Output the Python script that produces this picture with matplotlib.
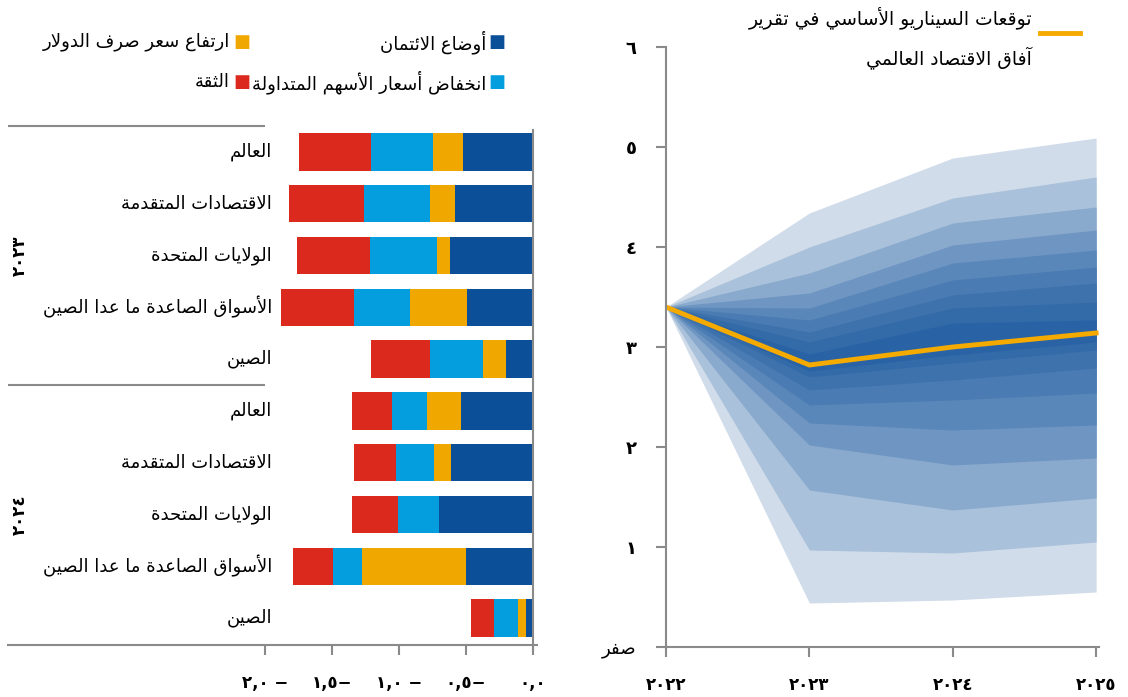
import numpy as np
from matplotlib import pyplot as plt
from matplotlib.lines import Line2D

# ---- data (left panel: contributions, percentage points) ----
regions = ['العالم', 'الاقتصادات المتقدمة', 'الولايات المتحدة', 'الأسواق الصاعدة ما عدا الصين', 'الصين']
group_years = ['٢٠٢٣', '٢٠٢٤']
credit_2023 = [-0.52, -0.58, -0.62, -0.49, -0.20]
dollar_2023 = [-0.23, -0.19, -0.10, -0.43, -0.17]
equity_2023 = [-0.46, -0.49, -0.50, -0.42, -0.40]
confidence_2023 = [-0.54, -0.56, -0.54, -0.54, -0.44]
credit_2024 = [-0.54, -0.61, -0.70, -0.50, -0.05]
dollar_2024 = [-0.25, -0.13, 0.01, -0.78, -0.06]
equity_2024 = [-0.26, -0.28, -0.31, -0.21, -0.18]
confidence_2024 = [-0.30, -0.32, -0.34, -0.30, -0.17]
series_names = ['أوضاع الائتمان', 'ارتفاع سعر صرف الدولار', 'انخفاض أسعار الأسهم المتداولة', 'الثقة']
bar_xticks = [-2.0, -1.5, -1.0, -0.5, 0.0]
bar_xticklabels = ['٢,٠ −', '١,٥−', '١,٠ −', '٠,٥−', '٠,٠']

# ---- data (right panel: fan chart) ----
fan_years = [2022, 2023, 2024, 2025]
fan_year_labels = ['٢٠٢٢', '٢٠٢٣', '٢٠٢٤', '٢٠٢٥']
baseline = [3.40, 2.82, 3.00, 3.14]
fan_upper = [
    [3.40, 4.34, 4.89, 5.09],
    [3.40, 4.00, 4.49, 4.70],
    [3.40, 3.74, 4.24, 4.40],
    [3.40, 3.54, 4.02, 4.17],
    [3.40, 3.39, 3.84, 3.97],
    [3.40, 3.27, 3.67, 3.80],
    [3.40, 3.15, 3.52, 3.64],
    [3.40, 3.05, 3.39, 3.45],
    [3.40, 2.93, 3.24, 3.27],
]
fan_lower = [
    [3.40, 0.44, 0.47, 0.55],
    [3.40, 0.97, 0.94, 1.05],
    [3.40, 1.57, 1.37, 1.49],
    [3.40, 2.02, 1.82, 1.89],
    [3.40, 2.24, 2.17, 2.22],
    [3.40, 2.42, 2.47, 2.54],
    [3.40, 2.57, 2.67, 2.79],
    [3.40, 2.70, 2.84, 2.97],
    [3.40, 2.76, 2.92, 3.05],
]
fan_yticklabels = ['صفر', '١', '٢', '٣', '٤', '٥', '٦']
baseline_label = ['توقعات السيناريو الأساسي في تقرير', 'آفاق الاقتصاد العالمي']

# colours
c_credit = '#0b4f98'
c_dollar = '#f0a800'
c_equity = '#049ddd'
c_conf = '#db291d'
fan_colors = ['#d0dce9', '#a9c1da', '#8aaacd', '#6f96c2', '#5a87b9', '#4a7bb2',
              '#3e72ad', '#336aa8', '#2a63a5']
grey = '#8a8a8a'

# ---- minimal Arabic shaping (matplotlib has no bidi / joining) ----
FORMS = {
    '\u0621': (0xFE80, 1), '\u0622': (0xFE81, 2), '\u0623': (0xFE83, 2), '\u0624': (0xFE85, 2),
    '\u0625': (0xFE87, 2), '\u0626': (0xFE89, 4), '\u0627': (0xFE8D, 2), '\u0628': (0xFE8F, 4),
    '\u0629': (0xFE93, 2), '\u062A': (0xFE95, 4), '\u062B': (0xFE99, 4), '\u062C': (0xFE9D, 4),
    '\u062D': (0xFEA1, 4), '\u062E': (0xFEA5, 4), '\u062F': (0xFEA9, 2), '\u0630': (0xFEAB, 2),
    '\u0631': (0xFEAD, 2), '\u0632': (0xFEAF, 2), '\u0633': (0xFEB1, 4), '\u0634': (0xFEB5, 4),
    '\u0635': (0xFEB9, 4), '\u0636': (0xFEBD, 4), '\u0637': (0xFEC1, 4), '\u0638': (0xFEC5, 4),
    '\u0639': (0xFEC9, 4), '\u063A': (0xFECD, 4), '\u0641': (0xFED1, 4), '\u0642': (0xFED5, 4),
    '\u0643': (0xFED9, 4), '\u0644': (0xFEDD, 4), '\u0645': (0xFEE1, 4), '\u0646': (0xFEE5, 4),
    '\u0647': (0xFEE9, 4), '\u0648': (0xFEED, 2), '\u0649': (0xFEEF, 2), '\u064A': (0xFEF1, 4),
}
LAM_ALEF = {'\u0622': 0xFEF5, '\u0623': 0xFEF7, '\u0625': 0xFEF9, '\u0627': 0xFEFB}


def shape(text):
    chars = []
    i = 0
    while i < len(text):
        c = text[i]
        if c == '\u0644' and i + 1 < len(text) and text[i + 1] in LAM_ALEF:
            chars.append(('LA', LAM_ALEF[text[i + 1]]))
            i += 2
        else:
            chars.append(('C', c))
            i += 1

    def nforms(t):
        if t[0] == 'LA':
            return 2
        return FORMS[t[1]][1] if t[1] in FORMS else 0

    out = []
    for k, t in enumerate(chars):
        n = nforms(t)
        if n == 0:
            out.append(t[1])
            continue
        prev_joins = k > 0 and nforms(chars[k - 1]) == 4
        next_joins = n == 4 and k + 1 < len(chars) and nforms(chars[k + 1]) > 0
        base = t[1] if t[0] == 'LA' else FORMS[t[1]][0]
        if n == 1:
            form = 0
        elif prev_joins and next_joins:
            form = 3
        elif next_joins:
            form = 2
        elif prev_joins:
            form = 1
        else:
            form = 0
        out.append(chr(base + form))
    return ''.join(reversed(out))


plt.rcParams['font.family'] = ['DejaVu Sans']

W, H = 1128, 697
fig = plt.figure(figsize=(W / 100, H / 100), dpi=100)

# ================= left panel =================
ax1 = fig.add_axes([8 / W, 1 - 645 / H, (537 - 8) / W, (645 - 125) / H])

stack = [
    (credit_2023 + credit_2024, c_credit),
    (dollar_2023 + dollar_2024, c_dollar),
    (equity_2023 + equity_2024, c_equity),
    (confidence_2023 + confidence_2024, c_conf),
]
ypos = np.arange(10)
neg_base = np.zeros(10)
pos_base = np.zeros(10)
for vals, col in stack:
    vals = np.array(vals)
    left = np.where(vals < 0, neg_base, pos_base)
    ax1.barh(ypos, vals, left=left, height=0.72, color=col, linewidth=0)
    neg_base += np.where(vals < 0, vals, 0)
    pos_base += np.where(vals > 0, vals, 0)

ax1.set_xlim(-3.92, 0.03)
ax1.set_ylim(9.52, -0.52)
for s in ['top', 'right', 'left']:
    ax1.spines[s].set_visible(False)
ax1.spines['bottom'].set_color(grey)
ax1.spines['bottom'].set_linewidth(1.5)
ax1.axvline(0, color=grey, lw=1.5, ymin=-0.01, ymax=0.99, clip_on=False)
ax1.hlines([-0.5, 4.5], -3.92, -2.0, color=grey, lw=1.5, clip_on=False)
ax1.set_yticks([])
ax1.set_xticks(bar_xticks)
ax1.set_xticklabels(bar_xticklabels, fontsize=12, fontweight='bold')
ax1.tick_params(axis='x', direction='out', length=7, width=1.5, color=grey, pad=14)

for g, yr in enumerate(group_years):
    for j, name in enumerate(regions):
        ax1.text(-1.95, g * 5 + j, shape(name), ha='right', va='center', fontsize=13)
    ax1.text(-3.83, g * 5 + 2, yr, rotation=90, ha='center', va='center',
             fontsize=12, fontweight='bold')

# legend (manual, right-to-left)
leg_items = [
    (497, 42, 486, series_names[0], c_credit),
    (242, 42, 230, series_names[1], c_dollar),
    (497, 82, 486, series_names[2], c_equity),
    (242, 82, 230, series_names[3], c_conf),
]
for sx, sy, tx, name, col in leg_items:
    fig.text(sx / W, 1 - sy / H, '■', color=col, fontsize=13, ha='center', va='center')
    fig.text(tx / W, 1 - sy / H, shape(name), ha='right', va='center', fontsize=13)

# ================= right panel =================
ax2 = fig.add_axes([666 / W, 1 - 647 / H, (1099 - 666) / W, 600 / H])
for lo, hi, col in zip(fan_lower, fan_upper, fan_colors):
    ax2.fill_between(fan_years, lo, hi, color=col, linewidth=0)
ax2.plot(fan_years, baseline, color='#f5aa00', lw=3.5, solid_joinstyle='miter')

ax2.set_xlim(2022, 2025.02)
ax2.set_ylim(0, 6)
ax2.spines['top'].set_visible(False)
ax2.spines['right'].set_visible(False)
for s in ['left', 'bottom']:
    ax2.spines[s].set_color(grey)
    ax2.spines[s].set_linewidth(1.5)
ax2.set_yticks(range(7))
ax2.set_yticklabels([shape(t) for t in fan_yticklabels], fontsize=13, fontweight='bold')
ax2.get_yticklabels()[0].set_fontweight('normal')
ax2.set_xticks(fan_years)
ax2.set_xticklabels(fan_year_labels, fontsize=12, fontweight='bold')
ax2.tick_params(axis='both', direction='out', length=7, width=1.5, color=grey)
ax2.tick_params(axis='y', pad=14)
ax2.tick_params(axis='x', pad=14)

fig.add_artist(Line2D([1040 / W, 1080 / W], [1 - 33 / H, 1 - 33 / H], color='#f5aa00', lw=3.5,
                      transform=fig.transFigure))
fig.text(1032 / W, 1 - 18 / H, shape(baseline_label[0]), ha='right', va='center', fontsize=13.5)
fig.text(1032 / W, 1 - 58 / H, shape(baseline_label[1]), ha='right', va='center', fontsize=13.5)

fig.savefig('out.png', dpi=100)
